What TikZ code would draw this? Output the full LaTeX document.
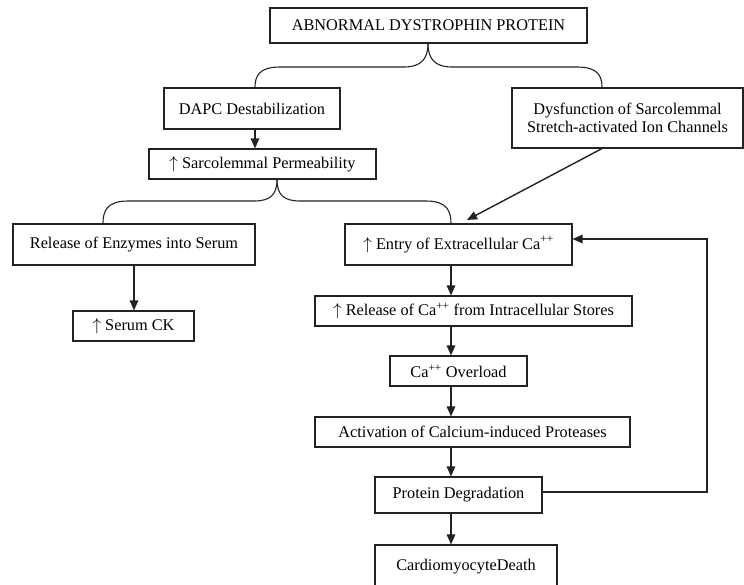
\documentclass[tikz,border=0pt]{standalone}
\usepackage{fontspec}
\setmainfont{Liberation Serif}
\usetikzlibrary{arrows.meta}
\definecolor{ln}{HTML}{222222}
\newcommand{\upar}{$\uparrow$}
\begin{document}
\begin{tikzpicture}[x=1pt,y=-1pt,
  box/.style={draw=ln,line width=1.1pt,inner sep=0pt,align=center,
    font=\fontsize{16.3}{18}\selectfont},
  arr/.style={draw=ln,line width=1.4pt,-{Triangle[length=10pt,width=8.5pt]}},
  brace/.style={draw=ln,line width=1.1pt}]
\useasboundingbox (0,0) rectangle (744,584);
\clip (0,0) rectangle (744,584);
% nodes
\node[box,minimum width=317pt,minimum height=35pt] (top) at (428.5,25.5) {ABNORMAL DYSTROPHIN PROTEIN};
\node[box,minimum width=176pt,minimum height=41pt] (dapc) at (252,108.5) {DAPC Destabilization};
\node[box,minimum width=231pt,minimum height=60pt] (dys) at (627.5,118) {Dysfunction of Sarcolemmal\\Stretch-activated Ion Channels};
\node[box,minimum width=227pt,minimum height=30pt] (perm) at (262.5,164) {\upar\ Sarcolemmal Permeability};
\node[box,minimum width=242pt,minimum height=41pt] (enz) at (134,244.5) {Release of Enzymes into Serum};
\node[box,minimum width=121pt,minimum height=30pt] (ck) at (133.5,326) {\upar\ Serum CK};
\node[box,minimum width=227pt,minimum height=41pt] (entry) at (458.5,244.5) {\upar\ Entry of Extracellular Ca\textsuperscript{++}};
\node[box,minimum width=317pt,minimum height=30pt] (relca) at (473.5,311) {\upar\ Release of Ca\textsuperscript{++} from Intracellular Stores};
\node[box,minimum width=137pt,minimum height=30pt] (over) at (458.5,371) {Ca\textsuperscript{++} Overload};
\node[box,minimum width=315pt,minimum height=30pt] (act) at (472.5,432) {Activation of Calcium-induced Proteases};
\node[box,minimum width=167pt,minimum height=36pt] (deg) at (458.5,495) {Protein Degradation};
\node[box,minimum width=182pt,minimum height=50pt,text depth=0pt] (death) at (466,570) {\raisebox{10pt}{CardiomyocyteDeath}};
% helper coordinates
\coordinate (xa) at (255,0);
\coordinate (xb) at (602,0);
\coordinate (xc) at (103,0);
\coordinate (xd) at (451,0);
\coordinate (xe) at (134,0);
\coordinate (xf) at (428,0);
\coordinate (xg) at (277,0);
\coordinate (tipd) at (467,220);
\coordinate (fb1) at (707,492);
\coordinate (fb2) at (707,239);
% braces
\draw[brace] (top.south -| xf) .. controls (428,60) and (420,67) .. (404,67) -- (280,67)
  .. controls (259,67) and (255,76) .. (dapc.north -| xa);
\draw[brace] (top.south -| xf) .. controls (428,60) and (436,67) .. (452,67) -- (577,67)
  .. controls (598,67) and (602,76) .. (dys.north -| xb);
\draw[brace] (perm.south -| xg) .. controls (277,195) and (270,201) .. (254,201) -- (128,201)
  .. controls (107,201) and (103,211) .. (enz.north -| xc);
\draw[brace] (perm.south -| xg) .. controls (277,195) and (284,201) .. (300,201) -- (426,201)
  .. controls (447,201) and (451,211) .. (entry.north -| xd);
% arrows
\draw[arr] (dapc.south -| xa) -- (perm.north -| xa);
\draw[arr] (dys.south -| xb) -- (tipd);
\draw[arr] (enz.south -| xe) -- (ck.north -| xe);
\draw[arr] (entry.south -| xd) -- (relca.north -| xd);
\draw[arr] (relca.south -| xd) -- (over.north -| xd);
\draw[arr] (over.south -| xd) -- (act.north -| xd);
\draw[arr] (act.south -| xd) -- (deg.north -| xd);
\draw[arr] (deg.south -| xd) -- (death.north -| xd);
\draw[arr] (deg.east |- fb1) -- (fb1) -- (fb2) -- (entry.east |- fb2);
\end{tikzpicture}
\end{document}
